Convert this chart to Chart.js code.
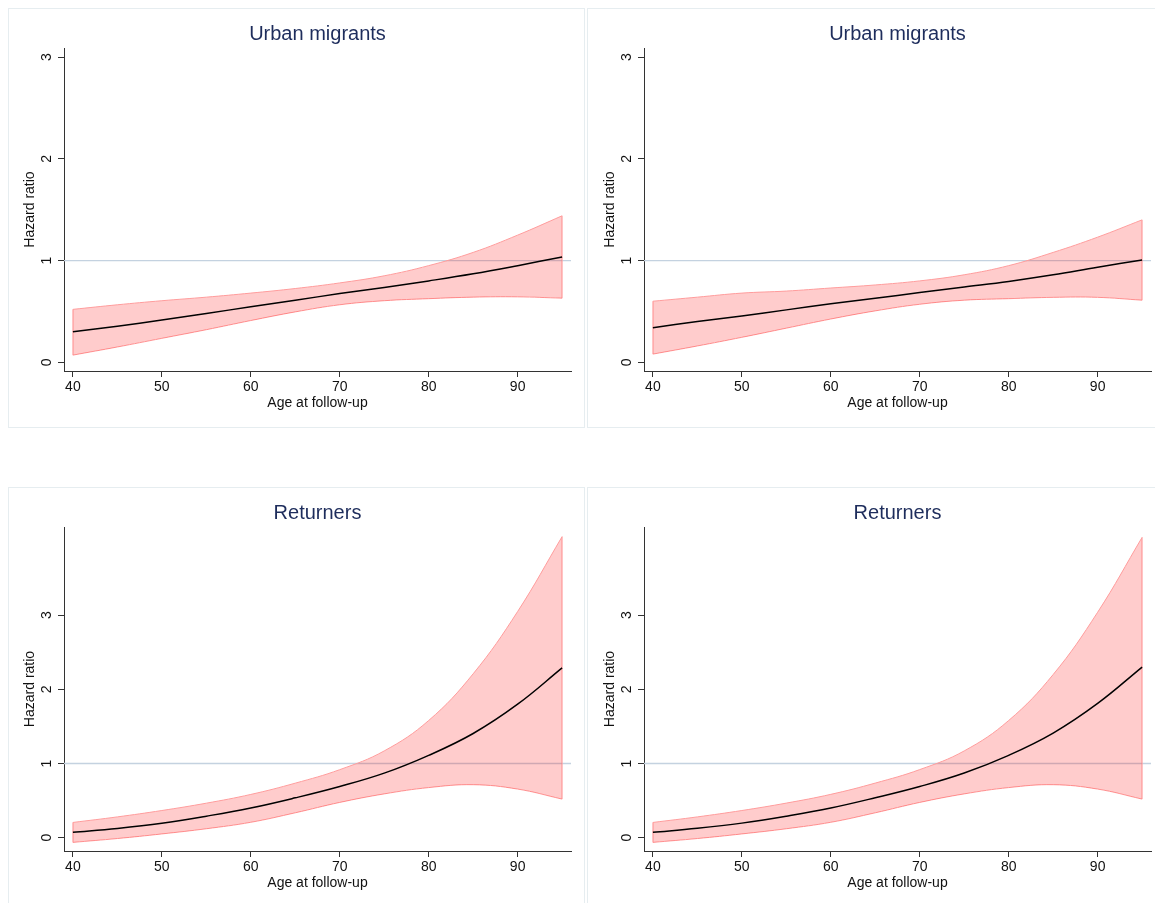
<!DOCTYPE html>
<html>
<head>
<meta charset="utf-8">
<title>Hazard ratio by age at follow-up</title>
<script src="https://cdn.jsdelivr.net/npm/chart.js@4.4.0/dist/chart.umd.min.js"></script>
<style>
  html, body { margin: 0; padding: 0; background: #fff; }
  body { width: 1155px; height: 903px; position: relative; overflow: hidden; }
  .panel { position: absolute; box-sizing: border-box; border: 1px solid #e6edf0; background: #fff; }
  .panel canvas { position: absolute; left: 0; top: 0; }
</style>
</head>
<body>
<div class="panel" style="left:8px;top:8px;width:577px;height:420px"><canvas id="urbanA" width="575" height="418"></canvas></div>
<div class="panel" style="left:587px;top:8px;width:570px;height:420px"><canvas id="urbanB" width="568" height="418"></canvas></div>
<div class="panel" style="left:8px;top:487px;width:577px;height:420px"><canvas id="retA" width="575" height="418"></canvas></div>
<div class="panel" style="left:587px;top:487px;width:570px;height:420px"><canvas id="retB" width="568" height="418"></canvas></div>
<script>
const ages = [40, 45, 50, 55, 60, 65, 70, 75, 80, 85, 90, 95];
const ageTicks = [40, 50, 60, 70, 80, 90];
const hrTicks = [0, 1, 2, 3];

// Urban migrants, left panel
const urbanA_hr    = [0.30, 0.355, 0.415, 0.48, 0.545, 0.61, 0.675, 0.735, 0.80, 0.87, 0.95, 1.035];
const urbanA_upper = [0.52, 0.565, 0.605, 0.64, 0.68, 0.725, 0.78, 0.85, 0.95, 1.08, 1.25, 1.44];
const urbanA_lower = [0.07, 0.15, 0.235, 0.32, 0.41, 0.495, 0.565, 0.605, 0.625, 0.64, 0.643, 0.63];

// Urban migrants, right panel
const urbanB_hr    = [0.34, 0.40, 0.455, 0.515, 0.575, 0.63, 0.685, 0.74, 0.795, 0.86, 0.935, 1.005];
const urbanB_upper = [0.60, 0.64, 0.68, 0.70, 0.73, 0.76, 0.80, 0.86, 0.95, 1.08, 1.23, 1.40];
const urbanB_lower = [0.08, 0.16, 0.245, 0.335, 0.425, 0.505, 0.57, 0.61, 0.625, 0.638, 0.638, 0.61];

// Returners, left panel
const retA_hr    = [0.072, 0.125, 0.195, 0.29, 0.40, 0.537, 0.69, 0.87, 1.11, 1.405, 1.80, 2.29];
const retA_upper = [0.205, 0.28, 0.366, 0.465, 0.583, 0.735, 0.917, 1.17, 1.58, 2.21, 3.05, 4.06];
const retA_lower = [-0.064, -0.012, 0.05, 0.12, 0.207, 0.335, 0.475, 0.59, 0.675, 0.714, 0.655, 0.52];

// Returners, right panel
const retB_hr    = [0.072, 0.126, 0.196, 0.29, 0.40, 0.538, 0.69, 0.872, 1.11, 1.41, 1.81, 2.30];
const retB_upper = [0.205, 0.28, 0.366, 0.466, 0.584, 0.736, 0.918, 1.17, 1.58, 2.20, 3.04, 4.05];
const retB_lower = [-0.064, -0.012, 0.05, 0.12, 0.207, 0.335, 0.475, 0.59, 0.675, 0.714, 0.655, 0.52];

const FONT = '"Liberation Sans", Arial, Helvetica, sans-serif';
const AXIS_COLOR = '#333';
const BAND_FILL = 'rgba(255, 0, 0, 0.2)';
const BAND_EDGE = '#ff9c9c';

// titles, rotated y labels and the reference line at HR = 1
const panelDecor = {
  id: 'panelDecor',
  beforeDatasetsDraw(chart, args, opts) {
    const { ctx, chartArea: a, scales: { y } } = chart;
    const py = y.getPixelForValue(opts.refValue);
    ctx.save();
    ctx.strokeStyle = '#c4d2e0';
    ctx.lineWidth = 1.3;
    ctx.beginPath();
    ctx.moveTo(a.left, py);
    ctx.lineTo(a.right, py);
    ctx.stroke();
    ctx.restore();
  },
  afterDraw(chart, args, opts) {
    const { ctx, chartArea: a, scales: { y } } = chart;
    const cx = (a.left + a.right) / 2;
    ctx.save();
    ctx.textAlign = 'center';
    ctx.textBaseline = 'middle';

    ctx.fillStyle = '#1e2d5c';
    ctx.font = '20px ' + FONT;
    ctx.fillText(opts.title, cx, a.top - 14);

    ctx.fillStyle = '#111';
    ctx.font = '14px ' + FONT;
    ctx.fillText('Age at follow-up', cx, a.bottom + 32);

    y.ticks.forEach(t => {
      ctx.save();
      ctx.translate(a.left - 17, y.getPixelForValue(t.value));
      ctx.rotate(-Math.PI / 2);
      ctx.fillText(String(t.value), 0, 0);
      ctx.restore();
    });

    ctx.save();
    ctx.translate(a.left - 34, (a.top + a.bottom) / 2);
    ctx.rotate(-Math.PI / 2);
    ctx.fillText('Hazard ratio', 0, 0);
    ctx.restore();

    ctx.restore();
  }
};

function pts(xs, ys) {
  return xs.map((x, i) => ({ x: x, y: ys[i] }));
}

function makePanel(id, title, hr, upper, lower, yMin, yMax, box) {
  const last = ages.length - 1;
  const line = { pointRadius: 0, tension: 0.4, fill: false };
  new Chart(document.getElementById(id), {
    type: 'line',
    data: {
      datasets: [
        Object.assign({ data: pts(ages, hr), borderColor: '#000', borderWidth: 1.5 }, line),
        Object.assign({}, line, { data: pts(ages, upper), borderColor: BAND_EDGE, borderWidth: 1,
          backgroundColor: BAND_FILL, fill: '+1' }),
        Object.assign({ data: pts(ages, lower), borderColor: BAND_EDGE, borderWidth: 1 }, line),
        // closing edges of the band at both ends
        Object.assign({}, line, { data: [{ x: ages[0], y: lower[0] }, { x: ages[0], y: upper[0] }],
          borderColor: BAND_EDGE, borderWidth: 1, tension: 0 }),
        Object.assign({}, line, { data: [{ x: ages[last], y: lower[last] }, { x: ages[last], y: upper[last] }],
          borderColor: BAND_EDGE, borderWidth: 1, tension: 0 })
      ]
    },
    options: {
      responsive: false,
      animation: false,
      devicePixelRatio: 1,
      events: [],
      layout: { padding: { top: box.top, right: box.right, bottom: 0, left: 0 } },
      plugins: {
        legend: { display: false },
        tooltip: { enabled: false },
        title: { display: false },
        panelDecor: { title: title, refValue: 1 }
      },
      scales: {
        x: {
          type: 'linear', min: 39, max: 96,
          afterBuildTicks: s => { s.ticks = ageTicks.map(v => ({ value: v })); },
          afterFit: s => { s.height = box.xh; },
          grid: { drawOnChartArea: false, drawTicks: true, tickLength: 6, tickColor: AXIS_COLOR },
          border: { display: true, color: AXIS_COLOR, width: 1 },
          ticks: { color: '#111', font: { size: 14, family: FONT }, padding: 2, maxRotation: 0, autoSkip: false }
        },
        y: {
          type: 'linear', min: yMin, max: yMax,
          afterBuildTicks: s => { s.ticks = hrTicks.map(v => ({ value: v })); },
          afterFit: s => { s.width = box.yw; },
          grid: { drawOnChartArea: false, drawTicks: true, tickLength: 6, tickColor: AXIS_COLOR },
          border: { display: true, color: AXIS_COLOR, width: 1 },
          ticks: { display: false }
        }
      }
    },
    plugins: [panelDecor]
  });
}

makePanel('urbanA', 'Urban migrants', urbanA_hr, urbanA_upper, urbanA_lower, -0.086, 3.09,
  { top: 39, right: 13, xh: 56, yw: 55 });
makePanel('urbanB', 'Urban migrants', urbanB_hr, urbanB_upper, urbanB_lower, -0.086, 3.09,
  { top: 39, right: 5, xh: 56, yw: 56 });
makePanel('retA', 'Returners', retA_hr, retA_upper, retA_lower, -0.18, 4.19,
  { top: 39, right: 13, xh: 55, yw: 55 });
makePanel('retB', 'Returners', retB_hr, retB_upper, retB_lower, -0.18, 4.19,
  { top: 39, right: 5, xh: 55, yw: 56 });
</script>
</body>
</html>
